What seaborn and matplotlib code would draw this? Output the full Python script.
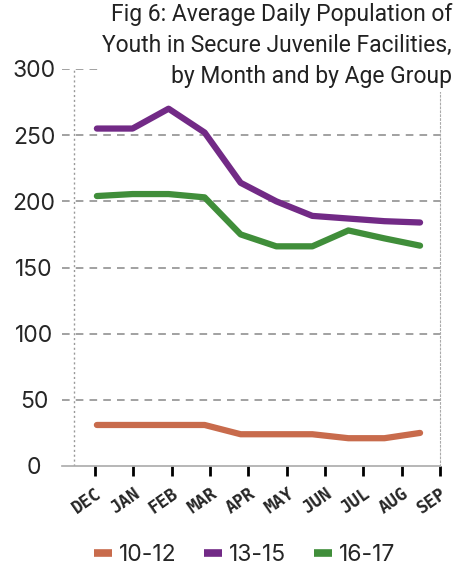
import numpy as np
import pandas as pd
import matplotlib.pyplot as plt
import seaborn as sns

# Month ticks and data positions (data sits slightly left of month ticks)
months = ["DEC", "JAN", "FEB", "MAR", "APR", "MAY", "JUN", "JUL", "AUG", "SEP"]
x_pos = [0.05, 0.98, 1.92, 2.86, 3.80, 4.73, 5.67, 6.61, 7.55, 8.48]

age_10_12 = [31, 31, 31, 31, 24, 24, 24, 21, 21, 25]
age_13_15 = [255, 255, 270, 252, 214, 200, 189, 187, 185, 184]
age_16_17 = [204, 205.5, 205.5, 203, 175, 166, 166, 178, 172, 166.5]

groups = ["10-12", "13-15", "16-17"]
colors = ["#C86B4C", "#722A86", "#408E3A"]

df = pd.DataFrame({
    "x": x_pos * 3,
    "value": age_10_12 + age_13_15 + age_16_17,
    "group": [g for g in groups for _ in x_pos],
})

sns.set_style("white")
plt.rcParams["font.family"] = ["Roboto", "DejaVu Sans"]

fig = plt.figure(figsize=(4.57, 5.72), dpi=100)
ax = fig.add_axes([62 / 457, 1 - 466 / 572, (440 - 62) / 457, (466 - 69) / 572])

sns.lineplot(data=df, x="x", y="value", hue="group", palette=colors,
             linewidth=4.5, ax=ax, legend=True)
for line in ax.lines:
    line.set_solid_joinstyle("round")

ax.set_xlim(-0.86, 9.0)
ax.set_ylim(0, 300)

# grid
for v in [50, 100, 150, 200, 250, 300]:
    ax.axhline(v, color="#888888", lw=1.1, ls=(0, (5, 4)), zorder=0)
ax.axvline(-0.55, color="#999999", lw=1, ls=(0, (1.5, 2)), zorder=0)

for s in ["top", "left"]:
    ax.spines[s].set_visible(False)
ax.spines["right"].set_color("#aaaaaa")
ax.spines["right"].set_linestyle((0, (1.5, 2)))
ax.spines["bottom"].set_color("#aaaaaa")
ax.spines["bottom"].set_linewidth(1.2)

ax.set_yticks([0, 50, 100, 150, 200, 250, 300])
ax.set_yticklabels(["0", "50", "100", "150", "200", "250", "300"],
                   fontsize=16.5, ha="center", family=["Inter", "DejaVu Sans"])
ax.tick_params(axis="y", length=0, pad=20)

ax.set_xticks(range(len(months)))
ax.set_xticklabels(months, rotation=35, ha="right", rotation_mode="anchor",
                   fontsize=12.5, fontweight="bold", family=["DejaVu Sans Mono"])
ax.tick_params(axis="x", bottom=True, length=7, width=2, color="black",
               pad=6, direction="out")
ax.set_xlabel("")
ax.set_ylabel("")

handles, labels = ax.get_legend_handles_labels()
for h in handles:
    h.set_linewidth(5.5)
    h.set_solid_capstyle("butt")
ax.legend(handles, labels, loc="center", bbox_to_anchor=(0.535, 17 / 572),
          bbox_transform=fig.transFigure, ncol=3, frameon=False,
          handlelength=0.8, handletextpad=0.3, columnspacing=1.2,
          prop={"family": ["Inter", "DejaVu Sans"], "size": 16.5})

fig.text(0.989, 0.995, "Fig 6: Average Daily Population of\nYouth in Secure Juvenile Facilities,\nby Month and by Age Group",
         ha="right", va="top", fontsize=16.5, linespacing=1.45, color="#222222",
         bbox=dict(facecolor="white", edgecolor="none", pad=3))

plt.savefig("out.png", dpi=100)
